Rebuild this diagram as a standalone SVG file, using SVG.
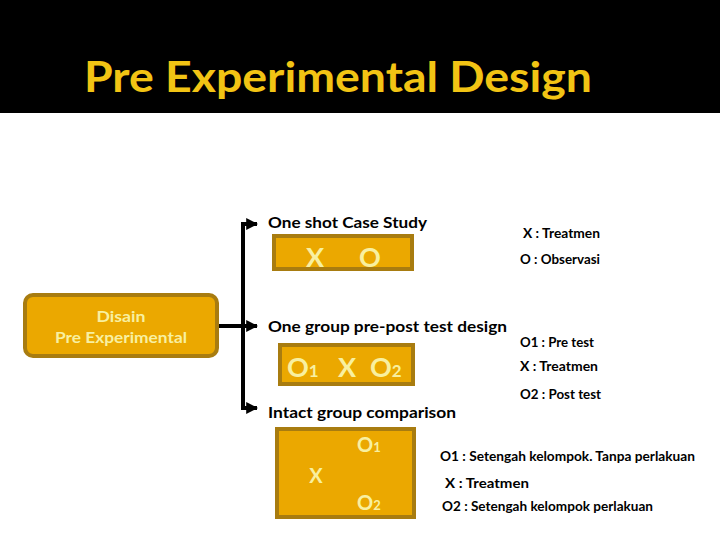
<svg xmlns="http://www.w3.org/2000/svg" width="720" height="540" viewBox="0 0 720 540">
<defs>
<style>
text{font-family:Lato,"Liberation Sans",sans-serif}
.box{fill:#EBA800;stroke:#A87C10;stroke-width:4}
.in{fill:#F8F0A0;font-weight:700}
.lbl{fill:#000;font-weight:700;font-size:15px}
.note{fill:#000;font-weight:700;font-size:13px}
.con{stroke:#000;stroke-width:4;fill:none}
</style>
<marker id="ah" viewBox="0 0 10 10" refX="9" refY="5" markerWidth="3" markerHeight="3" orient="auto" markerUnits="strokeWidth">
<path d="M0,0 L10,5 L0,10 Z" fill="#000"/>
</marker>
</defs>
<rect x="0" y="0" width="720" height="540" fill="#fff"/>
<rect x="0" y="0" width="720" height="113" fill="#000"/>
<text x="84" y="92" font-size="42" font-weight="700" fill="#F2C414" textLength="508" lengthAdjust="spacingAndGlyphs">Pre Experimental Design</text>

<g id="connectors">
<path class="con" d="M218,326 H257" marker-end="url(#ah)"/>
<path class="con" d="M243,224 V408"/>
<path class="con" d="M241,224 H257" marker-end="url(#ah)"/>
<path class="con" d="M241,408 H257" marker-end="url(#ah)"/>
</g>

<g id="disain">
<rect class="box" x="25" y="295" width="192" height="61" rx="8"/>
<text class="in" x="121" y="322" font-size="15" text-anchor="middle" textLength="49" lengthAdjust="spacingAndGlyphs">Disain</text>
<text class="in" x="121" y="343" font-size="15" text-anchor="middle" textLength="132" lengthAdjust="spacingAndGlyphs">Pre Experimental</text>
</g>

<g id="oneshot">
<text class="lbl" x="268" y="228" textLength="159" lengthAdjust="spacingAndGlyphs">One shot Case Study</text>
<rect class="box" x="274" y="236" width="138" height="33" stroke-width="3"/>
<text class="in" x="315" y="267" font-size="27" text-anchor="middle">X</text>
<text class="in" x="370" y="267" font-size="27" text-anchor="middle">O</text>
</g>

<g id="onegroup">
<text class="lbl" x="268" y="332" textLength="239" lengthAdjust="spacingAndGlyphs">One group pre-post test design</text>
<rect class="box" x="280" y="345" width="133" height="39" stroke-width="3"/>
<text class="in" x="287" y="377" font-size="27">O<tspan font-size="17">1</tspan></text>
<text class="in" x="347" y="377" font-size="27" text-anchor="middle">X</text>
<text class="in" x="370" y="377" font-size="27">O<tspan font-size="17">2</tspan></text>
</g>

<g id="intact">
<text class="lbl" x="268" y="418" textLength="188" lengthAdjust="spacingAndGlyphs">Intact group comparison</text>
<rect class="box" x="277" y="429" width="137" height="88" stroke-width="4"/>
<text class="in" x="357" y="452" font-size="20">O<tspan font-size="13">1</tspan></text>
<text class="in" x="316" y="483" font-size="20" text-anchor="middle">X</text>
<text class="in" x="357" y="510" font-size="20">O<tspan font-size="13">2</tspan></text>
</g>

<g id="notes">
<text class="note" x="523" y="238" textLength="77" lengthAdjust="spacingAndGlyphs">X : Treatmen</text>
<text class="note" x="520" y="264" textLength="80" lengthAdjust="spacingAndGlyphs">O : Observasi</text>
<text class="note" x="520" y="347" textLength="74" lengthAdjust="spacingAndGlyphs">O1 : Pre test</text>
<text class="note" x="520" y="371" textLength="78" lengthAdjust="spacingAndGlyphs">X : Treatmen</text>
<text class="note" x="520" y="399" textLength="81" lengthAdjust="spacingAndGlyphs">O2 : Post test</text>
<text class="note" x="440" y="461" textLength="255" lengthAdjust="spacingAndGlyphs">O1 : Setengah kelompok. Tanpa perlakuan</text>
<text class="note" x="445" y="488" textLength="84" lengthAdjust="spacingAndGlyphs">X  : Treatmen</text>
<text class="note" x="442" y="511" textLength="211" lengthAdjust="spacingAndGlyphs">O2 : Setengah kelompok perlakuan</text>
</g>
</svg>
